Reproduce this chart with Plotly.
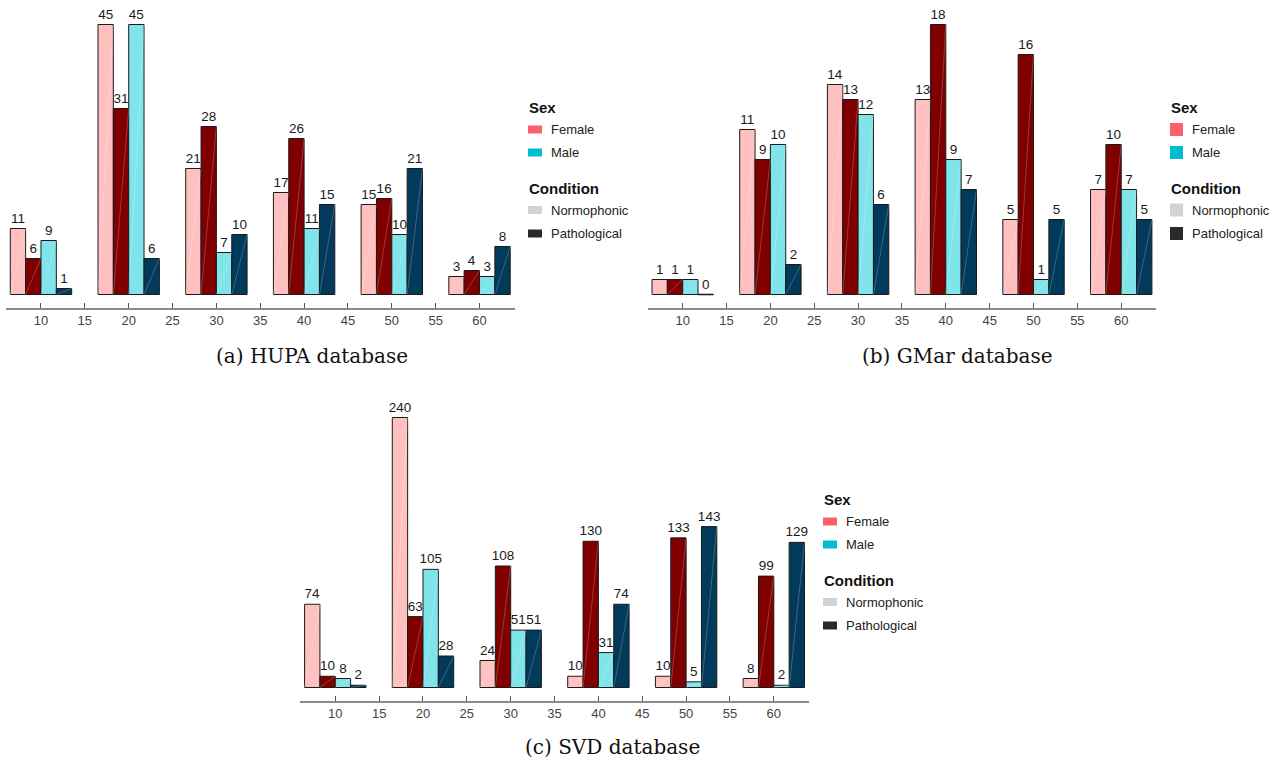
import plotly.graph_objects as go

ages = [10, 20, 30, 40, 50, 60]
tick_vals = [10, 15, 20, 25, 30, 35, 40, 45, 50, 55, 60]
series_names = ["Female Normophonic", "Female Pathological", "Male Normophonic", "Male Pathological"]

hupa_f_norm = [11, 45, 21, 17, 15, 3]
hupa_f_path = [6, 31, 28, 26, 16, 4]
hupa_m_norm = [9, 45, 7, 11, 10, 3]
hupa_m_path = [1, 6, 10, 15, 21, 8]

gmar_f_norm = [1, 11, 14, 13, 5, 7]
gmar_f_path = [1, 9, 13, 18, 16, 10]
gmar_m_norm = [1, 10, 12, 9, 1, 7]
gmar_m_path = [0, 2, 6, 7, 5, 5]

svd_f_norm = [74, 240, 24, 10, 10, 8]
svd_f_path = [10, 63, 108, 130, 133, 99]
svd_m_norm = [8, 105, 51, 31, 5, 2]
svd_m_path = [2, 28, 51, 74, 143, 129]

captions = ["(a) HUPA database", "(b) GMar database", "(c) SVD database"]

bar_colors = ["#FFC0C0", "#800000", "#80E4EA", "#023A5B"]
legend_sex = [("Female", "#FF5F6B"), ("Male", "#00BDD3")]
legend_cond = [("Normophonic", "#D3D3D3"), ("Pathological", "#2A2A2A")]

W, H = 1272, 760
BARGAP = 0.3
N_SER = 4
AGE_STEP = 10

def fx(px):
    return px / W

def fy(py):
    return 1 - py / H

panels = [
    dict(data=[hupa_f_norm, hupa_f_path, hupa_m_norm, hupa_m_path], l=5.9, r=514.6, b=307.5, t=14,
         lx=528, ly=107, cx=312, cy=356, sw=(14, 8)),
    dict(data=[gmar_f_norm, gmar_f_path, gmar_m_norm, gmar_m_path], l=647.6, r=1156.3, b=307.5, t=14,
         lx=1170, ly=107, cx=957, cy=356, sw=(13, 13)),
    dict(data=[svd_f_norm, svd_f_path, svd_m_norm, svd_m_path], l=300.2, r=808.9, b=700.5, t=407,
         lx=823, ly=499, cx=612, cy=747, sw=(14, 8)),
]

fig = go.Figure()
shapes = []
annotations = []

bw = AGE_STEP * (1 - BARGAP) / N_SER

for i, p in enumerate(panels):
    k = i + 1
    xa = "x" if k == 1 else f"x{k}"
    ya = "y" if k == 1 else f"y{k}"
    vmax = max(max(s) for s in p["data"])
    for j, vals in enumerate(p["data"]):
        fig.add_trace(go.Bar(
            x=ages, y=vals, name=series_names[j], xaxis=xa, yaxis=ya,
            marker=dict(color=bar_colors[j], line=dict(color="#1a1a1a", width=1)),
            text=[str(v) for v in vals], textposition="outside", cliponaxis=False,
            constraintext="none", textfont=dict(family="Liberation Sans", size=13.5, color="#1a1a1a"),
            offsetgroup=str(j), showlegend=False, hoverinfo="skip",
        ))
    for j, vals in enumerate(p["data"]):
        off = (j - (N_SER - 1) / 2) * bw
        dx, dy, zx, zy = [], [], [], []
        for a, v in zip(ages, vals):
            x0 = a + off - bw / 2
            x1 = a + off + bw / 2
            if v > 0:
                dx += [x0, x1, None]
                dy += [0, v, None]
            else:
                zx += [x0, x1, None]
                zy += [0, 0, None]
        fig.add_trace(go.Scatter(x=dx, y=dy, mode="lines", xaxis=xa, yaxis=ya,
                                 line=dict(color="rgba(255,255,255,0.22)", width=1),
                                 showlegend=False, hoverinfo="skip"))
        if zx:
            fig.add_trace(go.Scatter(x=zx, y=zy, mode="lines", xaxis=xa, yaxis=ya,
                                     line=dict(color="#1a1a1a", width=1.5),
                                     showlegend=False, hoverinfo="skip", cliponaxis=False))
    px_per_val = 270.0 / vmax
    base_px = 13.0
    lo = -base_px / px_per_val
    hi = (p["b"] - p["t"] - base_px) / px_per_val
    xkey = "xaxis" if k == 1 else f"xaxis{k}"
    ykey = "yaxis" if k == 1 else f"yaxis{k}"
    fig.update_layout(**{
        xkey: dict(domain=[fx(p["l"]), fx(p["r"])], range=[6, 64], anchor=ya,
                   tickvals=tick_vals, ticks="inside", ticklen=5, tickwidth=1, tickcolor="#555",
                   showline=True, linecolor="#8a8a8a", linewidth=2, showgrid=False, zeroline=False,
                   tickfont=dict(family="Liberation Sans", size=13, color="#444")),
        ykey: dict(domain=[fy(p["b"]), fy(p["t"])], range=[lo, hi], anchor=xa, visible=False,
                   showgrid=False, zeroline=False),
    })
    lx, ly = p["lx"], p["ly"]
    sw, sh = p["sw"]
    annotations.append(dict(x=fx(lx - 1), y=fy(ly), xref="paper", yref="paper", text="<b>Sex</b>",
                            showarrow=False, xanchor="left", yanchor="middle",
                            font=dict(family="Liberation Sans", size=15, color="#111")))
    annotations.append(dict(x=fx(lx - 1), y=fy(ly + 81), xref="paper", yref="paper", text="<b>Condition</b>",
                            showarrow=False, xanchor="left", yanchor="middle",
                            font=dict(family="Liberation Sans", size=15, color="#111")))
    rows = [(legend_sex[0], ly + 22.5), (legend_sex[1], ly + 45.5),
            (legend_cond[0], ly + 103), (legend_cond[1], ly + 126.5)]
    for (label, col), ry in rows:
        shapes.append(dict(type="rect", xref="paper", yref="paper",
                           x0=fx(lx), x1=fx(lx + sw), y0=fy(ry - sh / 2), y1=fy(ry + sh / 2),
                           fillcolor=col, line=dict(width=0)))
        annotations.append(dict(x=fx(lx + sw + 7), y=fy(ry), xref="paper", yref="paper", text=label,
                                showarrow=False, xanchor="left", yanchor="middle",
                                font=dict(family="Liberation Sans", size=13, color="#222")))
    annotations.append(dict(x=fx(p["cx"]), y=fy(p["cy"]), xref="paper", yref="paper", text=captions[i],
                            showarrow=False, xanchor="center", yanchor="middle",
                            font=dict(family="DejaVu Serif", size=20, color="#111")))

fig.update_layout(
    width=W, height=H, margin=dict(l=0, r=0, t=0, b=0),
    paper_bgcolor="white", plot_bgcolor="white",
    barmode="group", bargap=BARGAP, bargroupgap=0,
    shapes=shapes, annotations=annotations, showlegend=False,
)

fig.write_html("out.html")
